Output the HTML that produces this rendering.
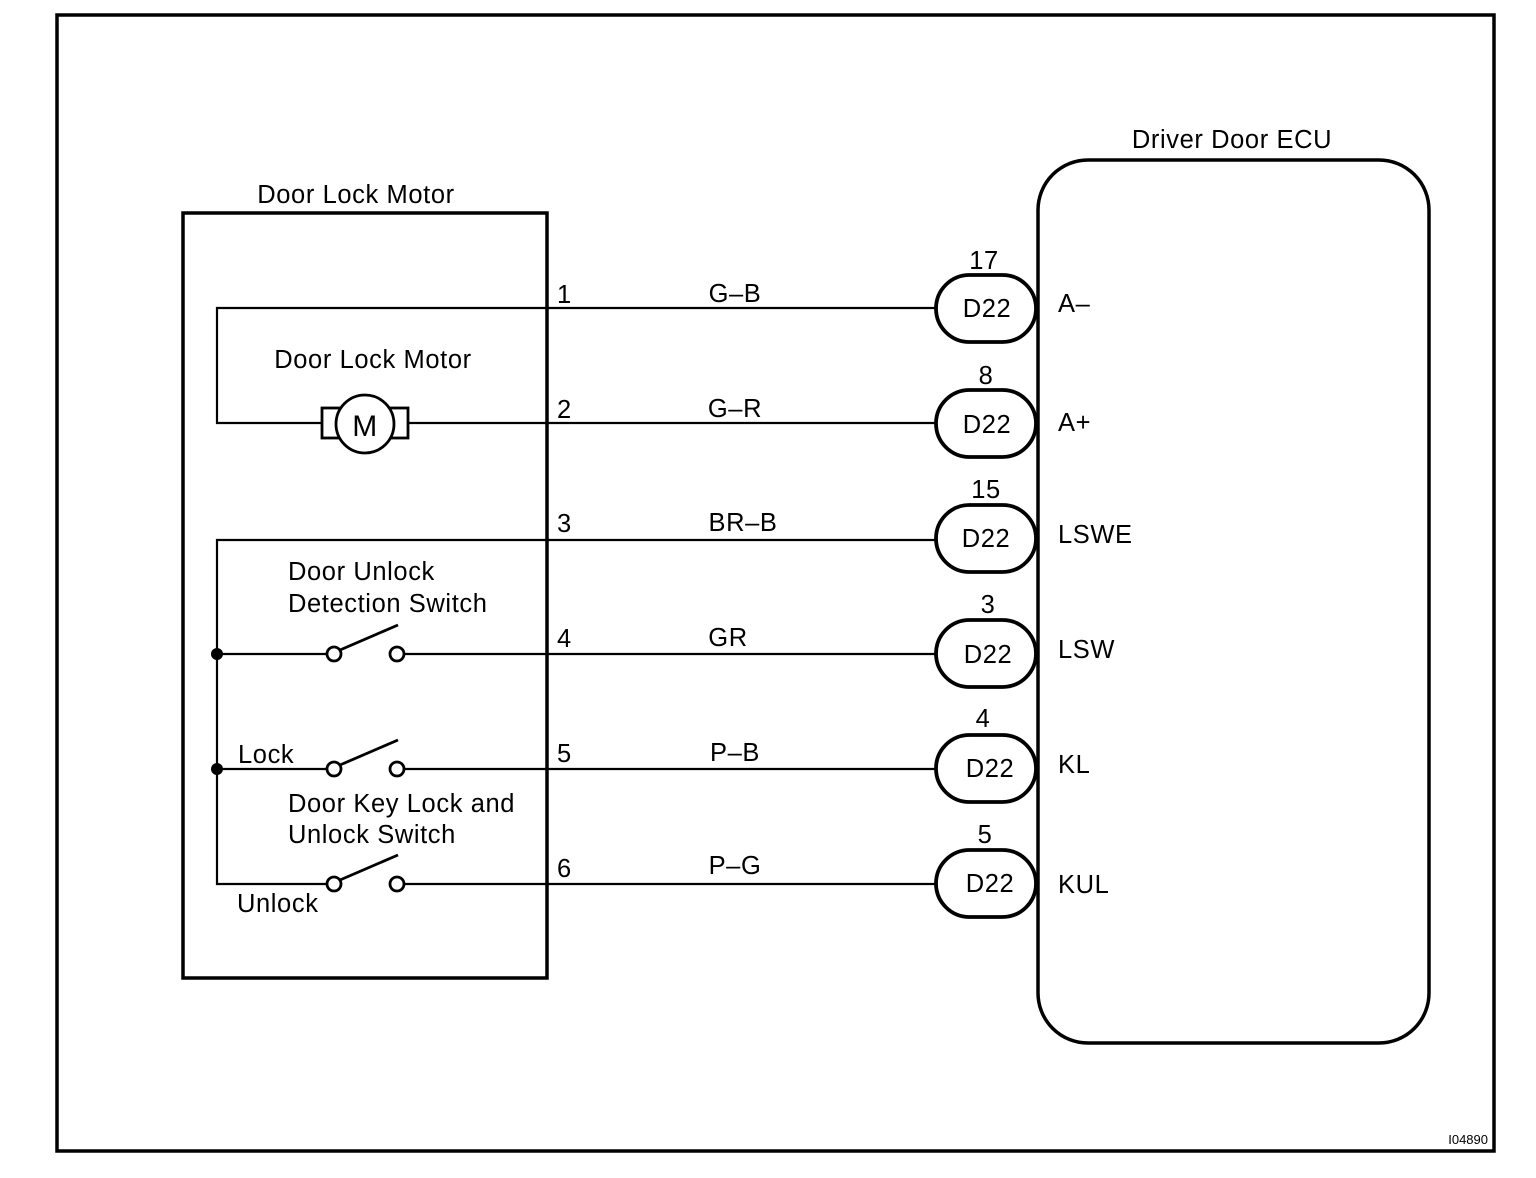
<!DOCTYPE html>
<html><head><meta charset="utf-8"><style>
html,body{margin:0;padding:0;background:#fff;}
svg{display:block;}
text{font-family:"Liberation Sans",Arial,sans-serif;fill:#000;}
</style></head><body>
<svg width="1536" height="1178" viewBox="0 0 1536 1178" xmlns="http://www.w3.org/2000/svg">
<g fill="none" stroke="#000">
<rect x="57" y="15" width="1437" height="1136" stroke-width="3.5"/>
<rect x="183" y="213" width="364" height="765" stroke-width="3.5"/>
<rect x="1038" y="160" width="391" height="883" rx="50" ry="50" stroke-width="3.5"/>
<polyline points="935,308 217,308 217,423 322,423" stroke-width="2.2"/>
<line x1="408" y1="423" x2="935" y2="423" stroke-width="2.2"/>
<rect x="322" y="408" width="86" height="30" stroke-width="2.8"/>
<circle cx="365" cy="424" r="29" fill="#fff" stroke-width="2.8"/>
<polyline points="935,540 217,540 217,884 327,884" stroke-width="2.2"/>
<line x1="217" y1="654" x2="327" y2="654" stroke-width="2.2"/>
<line x1="217" y1="769" x2="327" y2="769" stroke-width="2.2"/>
<g stroke-width="2.8">
<circle cx="334" cy="654" r="7"/><circle cx="397" cy="654" r="7"/>
<line x1="340" y1="650" x2="398" y2="625"/>
<circle cx="334" cy="769" r="7"/><circle cx="397" cy="769" r="7"/>
<line x1="340" y1="765" x2="398" y2="740"/>
<circle cx="334" cy="884" r="7"/><circle cx="397" cy="884" r="7"/>
<line x1="340" y1="880" x2="398" y2="855"/>
</g>
<g stroke-width="2.2">
<line x1="404" y1="654" x2="935" y2="654"/>
<line x1="404" y1="769" x2="935" y2="769"/>
<line x1="404" y1="884" x2="935" y2="884"/>
</g>
<g stroke-width="3.8" fill="#fff">
<rect x="936" y="275" width="100" height="67" rx="33.5"/>
<rect x="936" y="390" width="100" height="67" rx="33.5"/>
<rect x="936" y="505" width="100" height="67" rx="33.5"/>
<rect x="936" y="620" width="100" height="67" rx="33.5"/>
<rect x="936" y="735" width="100" height="67" rx="33.5"/>
<rect x="936" y="850" width="100" height="67" rx="33.5"/>
</g>
</g>
<circle cx="217" cy="654" r="6"/>
<circle cx="217" cy="769" r="6"/>
<g font-size="25.5" letter-spacing="0.6">
<text x="356" y="203" text-anchor="middle">Door Lock Motor</text>
<text x="1232" y="148" text-anchor="middle">Driver Door ECU</text>
<text x="373" y="368" text-anchor="middle">Door Lock Motor</text>
<text x="365" y="436" text-anchor="middle" font-size="30">M</text>
<text x="288" y="580">Door Unlock</text>
<text x="288" y="612">Detection Switch</text>
<text x="238" y="763">Lock</text>
<text x="288" y="812">Door Key Lock and</text>
<text x="288" y="843">Unlock Switch</text>
<text x="237" y="912">Unlock</text>
<text x="557" y="303">1</text><text x="557" y="418">2</text><text x="557" y="532">3</text>
<text x="557" y="647">4</text><text x="557" y="762">5</text><text x="557" y="877">6</text>
<text x="735" y="302" text-anchor="middle">G–B</text>
<text x="735" y="417" text-anchor="middle">G–R</text>
<text x="743" y="531" text-anchor="middle">BR–B</text>
<text x="728" y="646" text-anchor="middle">GR</text>
<text x="735" y="761" text-anchor="middle">P–B</text>
<text x="735" y="874" text-anchor="middle">P–G</text>
<text x="984" y="269" text-anchor="middle">17</text>
<text x="986" y="384" text-anchor="middle">8</text>
<text x="986" y="498" text-anchor="middle">15</text>
<text x="988" y="613" text-anchor="middle">3</text>
<text x="983" y="727" text-anchor="middle">4</text>
<text x="985" y="843" text-anchor="middle">5</text>
<text x="987" y="317" text-anchor="middle">D22</text>
<text x="987" y="433" text-anchor="middle">D22</text>
<text x="986" y="547" text-anchor="middle">D22</text>
<text x="988" y="663" text-anchor="middle">D22</text>
<text x="990" y="777" text-anchor="middle">D22</text>
<text x="990" y="892" text-anchor="middle">D22</text>
<text x="1058" y="312">A–</text>
<text x="1058" y="431">A+</text>
<text x="1058" y="543">LSWE</text>
<text x="1058" y="658">LSW</text>
<text x="1058" y="773">KL</text>
<text x="1058" y="893">KUL</text>
</g>
<text x="1488" y="1144" font-size="13" text-anchor="end">I04890</text>
</svg>
</body></html>
